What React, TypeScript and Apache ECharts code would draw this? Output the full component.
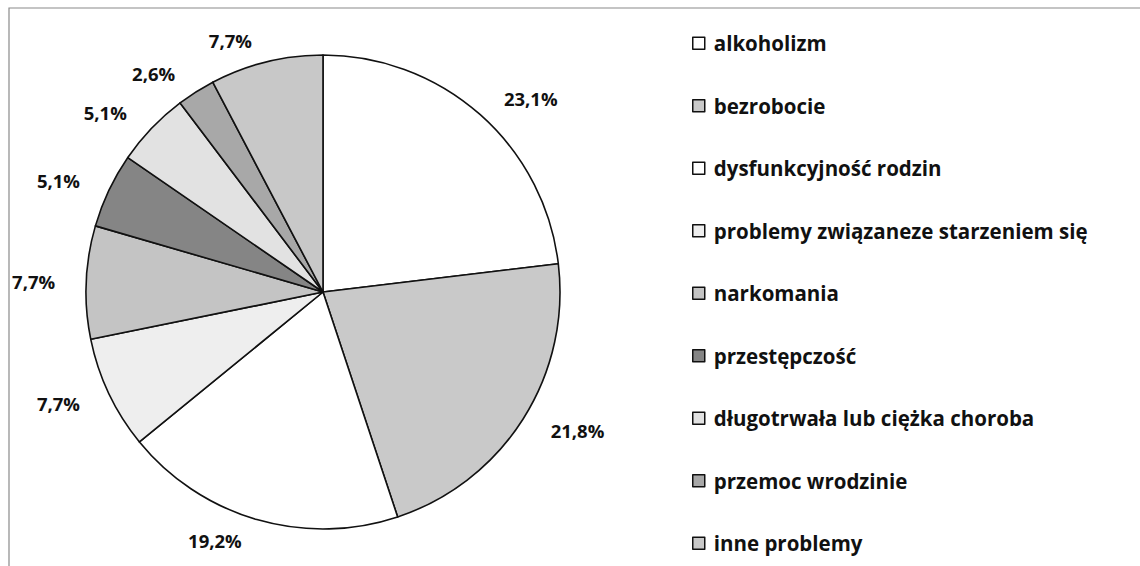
import React, { useEffect, useRef } from "react";
import * as echarts from "echarts";

const categories = [
  "alkoholizm",
  "bezrobocie",
  "dysfunkcyjność rodzin",
  "problemy związaneze starzeniem się",
  "narkomania",
  "przestępczość",
  "długotrwała lub ciężka choroba",
  "przemoc wrodzinie",
  "inne problemy",
];
const values = [23.1, 21.8, 19.2, 7.7, 7.7, 5.1, 5.1, 2.6, 7.7];
const colors = [
  "#ffffff",
  "#c9c9c9",
  "#ffffff",
  "#eeeeee",
  "#c4c4c4",
  "#858585",
  "#e2e2e2",
  "#a8a8a8",
  "#c8c8c8",
];

const FONT = "'Open Sans', 'Noto Sans', sans-serif";

export default function App() {
  const ref = useRef<HTMLDivElement>(null);
  useEffect(() => {
    if (!ref.current) return;
    const chart = echarts.init(ref.current, null, { renderer: "svg" });
    chart.setOption({
      animation: false,
      backgroundColor: "#ffffff",
      graphic: [
        {
          type: "rect",
          shape: { x: 9, y: 8, width: 1200, height: 600 },
          style: { fill: "none", stroke: "#8a8a8a", lineWidth: 1.2 },
          silent: true,
        },
      ],
      legend: {
        orient: "vertical",
        left: 687,
        top: 27,
        itemGap: 40,
        itemWidth: 12,
        itemHeight: 12,
        icon: "rect",
        itemStyle: { borderColor: "#111", borderWidth: 1.5 },
        textStyle: {
          fontFamily: FONT,
          fontSize: 20.5,
          fontWeight: "bold",
          color: "#111",
          lineHeight: 22.5,
          padding: [0, 0, 0, 4],
        },
        data: categories,
      },
      series: [
        {
          type: "pie",
          center: [323, 292],
          radius: 237,
          startAngle: 90,
          clockwise: true,
          avoidLabelOverlap: false,
          data: categories.map((c, i) => ({
            name: c,
            value: values[i],
            itemStyle: { color: colors[i] },
          })),
          itemStyle: { borderColor: "#111", borderWidth: 1.6 },
          label: {
            show: true,
            position: "outside",
            formatter: (p: any) => String(p.value.toFixed(1)).replace(".", ",") + "%",
            fontFamily: FONT,
            fontSize: 18.5,
            fontWeight: "bold",
            color: "#111",
          },
          labelLine: { show: false, length: 22, length2: 4 },
          emphasis: { disabled: true },
        },
      ],
    });
    return () => chart.dispose();
  }, []);
  return (
    <div
      ref={ref}
      style={{ position: "fixed", left: 0, top: 0, width: 1140, height: 566 }}
    />
  );
}
